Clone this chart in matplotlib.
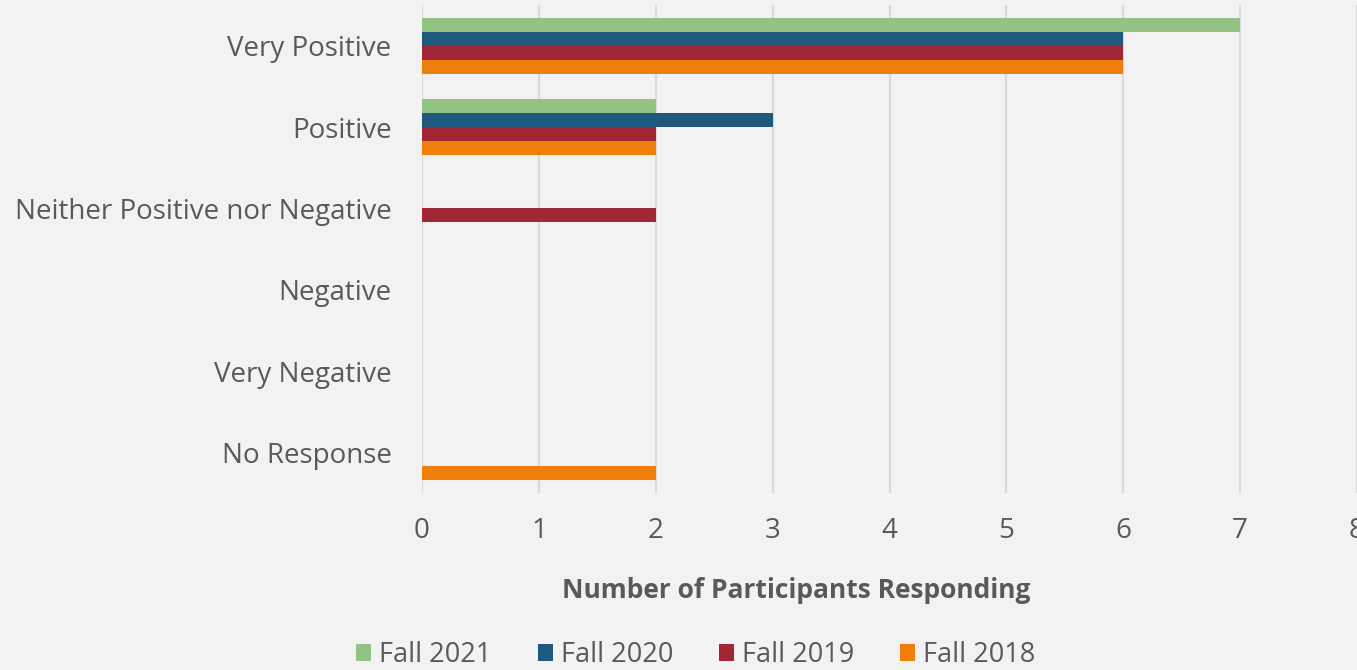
import numpy as np
import matplotlib.pyplot as plt

# Datos
categorias = ['Very Positive', 'Positive', 'Neither Positive nor Negative',
              'Negative', 'Very Negative', 'No Response']
series = ['Fall 2021', 'Fall 2020', 'Fall 2019', 'Fall 2018']
fall_2021 = [7, 2, 0, 0, 0, 0]
fall_2020 = [6, 3, 0, 0, 0, 0]
fall_2019 = [6, 2, 2, 0, 0, 0]
fall_2018 = [6, 2, 0, 0, 0, 2]
colores = ['#92C384', '#1F5A7E', '#A12735', '#EF7F0A']

valores = [fall_2021, fall_2020, fall_2019, fall_2018]

plt.rcParams['font.family'] = ['Open Sans', 'DejaVu Sans']
gris_texto = '#595959'

fig = plt.figure(figsize=(13.57, 6.70), dpi=100, facecolor='#F2F2F2')
ax = fig.add_axes([422 / 1357, 1 - 493 / 670, 1 - 422 / 1357, (493 - 5) / 670])
ax.set_facecolor('#F2F2F2')

y = np.arange(len(categorias))
alto = 0.172
for i, (nombre, vals, col) in enumerate(zip(series, valores, colores)):
    pos = y + (i - 1.5) * alto
    ax.barh(pos, vals, height=alto, color=col, label=nombre, zorder=3)

ax.set_ylim(len(categorias) - 0.5, -0.5)
ax.set_xlim(0, 8)
ax.set_xticks(range(0, 9))
ax.set_yticks(y)
ax.set_yticklabels(categorias)
ax.grid(axis='x', color='#D9D9D9', linewidth=1.5, zorder=0)
for s in ax.spines.values():
    s.set_visible(False)
ax.tick_params(axis='both', length=0, labelsize=20, labelcolor=gris_texto)
ax.tick_params(axis='x', pad=17)
ax.tick_params(axis='y', pad=22)
for lbl in ax.get_xticklabels():
    lbl.set_clip_on(False)

fig.text(796 / 1357, 1 - 590 / 670, 'Number of Participants Responding',
         ha='center', va='center', fontsize=19, fontweight='bold', color=gris_texto)

ax.legend(loc='center', bbox_to_anchor=(696 / 1357, 1 - 655 / 670),
          bbox_transform=fig.transFigure, ncol=4, frameon=False,
          fontsize=19.5, labelcolor=gris_texto, handlelength=0.55, handleheight=0.55,
          handletextpad=0.3, columnspacing=1.7)

fig.savefig('out.png', dpi=100, facecolor=fig.get_facecolor())
